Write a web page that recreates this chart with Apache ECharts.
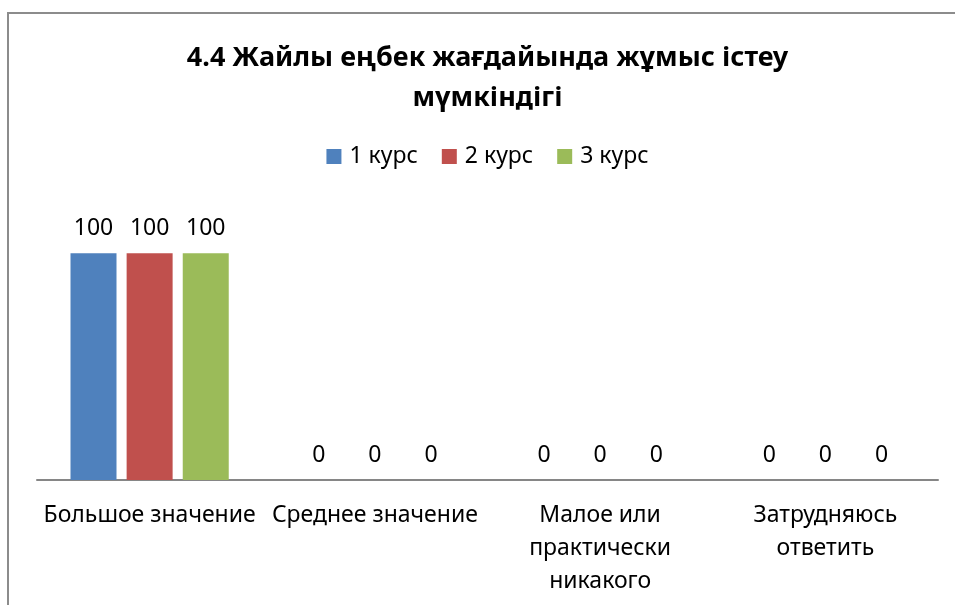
<!DOCTYPE html>
<html>
<head>
<meta charset="utf-8">
<script src="https://cdn.jsdelivr.net/npm/echarts@6/dist/echarts.min.js"></script>
<style>
  html, body {
    margin: 0;
    padding: 0;
    width: 955px;
    height: 605px;
    overflow: hidden;
    background: #ffffff;
  }
  .frame {
    position: absolute;
    left: 7px;
    top: 12px;
    width: 1000px;
    height: 700px;
    border: 2px solid #8c8c8c;
  }
  #chart {
    position: absolute;
    left: 0;
    top: 0;
    width: 975px;
    height: 605px;
  }
</style>
</head>
<body>
<div class="frame"></div>
<div id="chart"></div>
<script>
  // данные
  const categories = [
    "Большое значение",
    "Среднее значение",
    "Малое или\nпрактически\nникакого",
    "Затрудняюсь\nответить",
  ];
  const seriesNames = ["1 курс", "2 курс", "3 курс"];
  const kurs1 = [100, 0, 0, 0];
  const kurs2 = [100, 0, 0, 0];
  const kurs3 = [100, 0, 0, 0];
  const colors = ["#4F81BD", "#C0504D", "#9BBB59"];

  const font = "Noto Sans";
  const values = [kurs1, kurs2, kurs3];

  let myChart = echarts.init(document.getElementById("chart"));
  myChart.setOption({
    color: colors,
    animation: false,
    title: {
      text: "4.4 Жайлы еңбек жағдайында жұмыс істеу\nмүмкіндігі",
      left: "center",
      top: 33,
      textStyle: {
        fontFamily: font,
        fontSize: 27,
        fontWeight: "bold",
        color: "#000000",
        lineHeight: 40,
      },
    },
    legend: {
      data: seriesNames,
      left: "center",
      top: 140,
      itemWidth: 15,
      itemHeight: 15,
      itemGap: 24,
      icon: "rect",
      textStyle: {
        fontFamily: font,
        fontSize: 23,
        color: "#000000",
        padding: [0, 0, 0, 3],
      },
    },
    grid: {
      left: 37,
      right: 37,
      top: 208,
      bottom: 125,
    },
    xAxis: {
      type: "category",
      data: categories,
      axisTick: {show: false},
      axisLine: {
        lineStyle: {color: "#868686", width: 2},
      },
      axisLabel: {
        interval: 0,
        margin: 19,
        fontFamily: font,
        fontSize: 23,
        lineHeight: 33,
        color: "#000000",
      },
    },
    yAxis: {
      type: "value",
      min: 0,
      max: 120,
      show: false,
    },
    series: seriesNames.map(function (name, i) {
      return {
        name: name,
        type: "bar",
        data: values[i],
        barWidth: 46,
        barGap: "22%",
        label: {
          show: true,
          position: "top",
          distance: 13,
          fontFamily: font,
          fontSize: 23,
          color: "#000000",
        },
      };
    }),
  });
</script>
</body>
</html>
